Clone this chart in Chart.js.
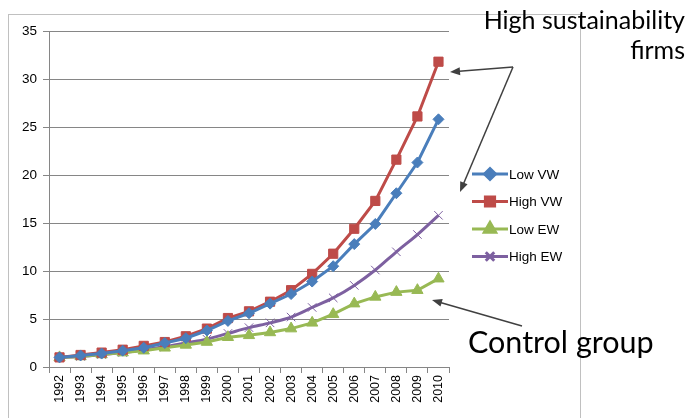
<!DOCTYPE html>
<html>
<head>
<meta charset="utf-8">
<script src="https://cdn.jsdelivr.net/npm/chart.js@4/dist/chart.umd.min.js"></script>
<style>
  html, body { margin: 0; padding: 0; background: #fff; }
  #wrap { width: 686px; height: 418px; position: relative; }
</style>
</head>
<body>
<div id="wrap"><canvas id="chart"></canvas></div>
<script>
// Cumulative returns, high vs low sustainability portfolios
const years = ['1992', '1993', '1994', '1995', '1996', '1997', '1998', '1999', '2000', '2001',
  '2002', '2003', '2004', '2005', '2006', '2007', '2008', '2009', '2010'];
const lowVW = [1.0, 1.2, 1.4, 1.7, 2.0, 2.5, 3.0, 3.8, 4.8, 5.6, 6.6, 7.6, 8.9, 10.5, 12.8, 14.9, 18.1, 21.3, 25.8];
const highVW = [1.0, 1.25, 1.5, 1.8, 2.2, 2.6, 3.2, 4.0, 5.1, 5.8, 6.8, 8.0, 9.7, 11.8, 14.4, 17.3, 21.6, 26.1, 31.8];
const lowEW = [1.0, 1.1, 1.3, 1.5, 1.7, 2.0, 2.3, 2.6, 3.1, 3.3, 3.6, 4.0, 4.6, 5.5, 6.6, 7.3, 7.8, 8.0, 9.2];
const highEW = [1.0, 1.1, 1.3, 1.5, 1.8, 2.1, 2.5, 2.9, 3.5, 4.1, 4.6, 5.2, 6.2, 7.2, 8.5, 10.1, 12.0, 13.8, 15.8];
const yTickValues = [0, 5, 10, 15, 20, 25, 30, 35];

const seriesNames = ['Low VW', 'High VW', 'Low EW', 'High EW'];
const seriesColors = ['#4a7ebb', '#be4b48', '#98b954', '#7d60a0'];

// cuadro, leyenda y anotaciones
const overlayPlugin = {
  id: 'overlay',
  beforeDraw(chart) {
    const ctx = chart.ctx;
    ctx.save();
    ctx.strokeStyle = '#c0c0c0';
    ctx.lineWidth = 1;
    ctx.strokeRect(8.5, 14.5, 572, 410);
    ctx.restore();
  },
  afterDraw(chart) {
    const ctx = chart.ctx;
    ctx.save();

    // leyenda
    chart.data.datasets.forEach((ds, i) => {
      const y = 174 + i * 27.5;
      ctx.strokeStyle = ds.borderColor;
      ctx.fillStyle = ds.backgroundColor;
      ctx.lineWidth = 3;
      ctx.beginPath();
      ctx.moveTo(472, y);
      ctx.lineTo(508, y);
      ctx.stroke();
      Chart.helpers.drawPoint(ctx, {
        pointStyle: ds.pointStyle,
        radius: ds.pointRadius,
        borderWidth: ds.pointBorderWidth || 1,
        rotation: 0
      }, 490, y);
      ctx.fillStyle = '#000';
      ctx.font = '13.5px "Liberation Sans", Arial, sans-serif';
      ctx.textBaseline = 'middle';
      ctx.textAlign = 'left';
      ctx.fillText(ds.label, 509, y + 1);
    });

    // flechas
    const arrow = (x1, y1, x2, y2) => {
      const a = Math.atan2(y2 - y1, x2 - x1);
      ctx.strokeStyle = '#404040';
      ctx.fillStyle = '#404040';
      ctx.lineWidth = 1.5;
      ctx.beginPath();
      ctx.moveTo(x1, y1);
      ctx.lineTo(x2 - 6 * Math.cos(a), y2 - 6 * Math.sin(a));
      ctx.stroke();
      ctx.beginPath();
      ctx.moveTo(x2, y2);
      ctx.lineTo(x2 - 10 * Math.cos(a) + 4 * Math.sin(a), y2 - 10 * Math.sin(a) - 4 * Math.cos(a));
      ctx.lineTo(x2 - 10 * Math.cos(a) - 4 * Math.sin(a), y2 - 10 * Math.sin(a) + 4 * Math.cos(a));
      ctx.closePath();
      ctx.fill();
    };
    arrow(513, 67, 450, 72);
    arrow(513, 67, 460, 192);
    arrow(522, 326, 432, 300);

    ctx.fillStyle = '#000';
    ctx.textBaseline = 'alphabetic';
    ctx.textAlign = 'right';
    ctx.font = '25px Lato, "Open Sans", sans-serif';
    ctx.fillText('High sustainability', 685, 29);
    ctx.fillText('firms', 685, 59);
    ctx.textAlign = 'left';
    ctx.font = '30.5px Lato, "Open Sans", sans-serif';
    ctx.fillText('Control group', 468, 353);
    ctx.restore();
  }
};

const makeSet = (label, data, idx, pointStyle, radius, extra) => Object.assign({
  label: label,
  data: data,
  borderColor: seriesColors[idx],
  backgroundColor: seriesColors[idx],
  borderWidth: 3,
  pointStyle: pointStyle,
  pointRadius: radius,
  pointHoverRadius: radius,
  pointBorderWidth: 1,
  tension: 0
}, extra || {});

new Chart(document.getElementById('chart'), {
  type: 'line',
  data: {
    labels: years,
    datasets: [
      makeSet(seriesNames[0], lowVW, 0, 'rectRot', 5.5),
      makeSet(seriesNames[1], highVW, 1, 'rect', 6.5),
      makeSet(seriesNames[2], lowEW, 2, 'triangle', 6.5),
      makeSet(seriesNames[3], highEW, 3, 'crossRot', 6, { cubicInterpolationMode: 'monotone', pointBorderWidth: 1 })
    ]
  },
  options: {
    responsive: true,
    maintainAspectRatio: false,
    animation: false,
    layout: { padding: { left: 8, right: 237, top: 31, bottom: 10 } },
    plugins: {
      legend: { display: false },
      tooltip: { enabled: false }
    },
    scales: {
      x: {
        offset: true,
        grid: {
          display: true,
          offset: true,
          drawOnChartArea: false,
          tickLength: 6,
          color: '#868686'
        },
        border: { color: '#868686' },
        ticks: {
          minRotation: 90,
          maxRotation: 90,
          autoSkip: false,
          color: '#000',
          padding: 2,
          font: { family: '"Liberation Sans", Arial, sans-serif', size: 12.5 }
        },
        afterFit: (scale) => { scale.height = 41; }
      },
      y: {
        min: 0,
        max: 35,
        afterBuildTicks: (scale) => { scale.ticks = yTickValues.map(v => ({ value: v })); },
        grid: { color: '#868686', tickLength: 6 },
        border: { color: '#868686' },
        ticks: {
          color: '#000',
          padding: 6,
          font: { family: '"Liberation Sans", Arial, sans-serif', size: 13.5 }
        },
        afterFit: (scale) => { scale.width = 41; }
      }
    }
  },
  plugins: [overlayPlugin]
});
</script>
</body>
</html>
